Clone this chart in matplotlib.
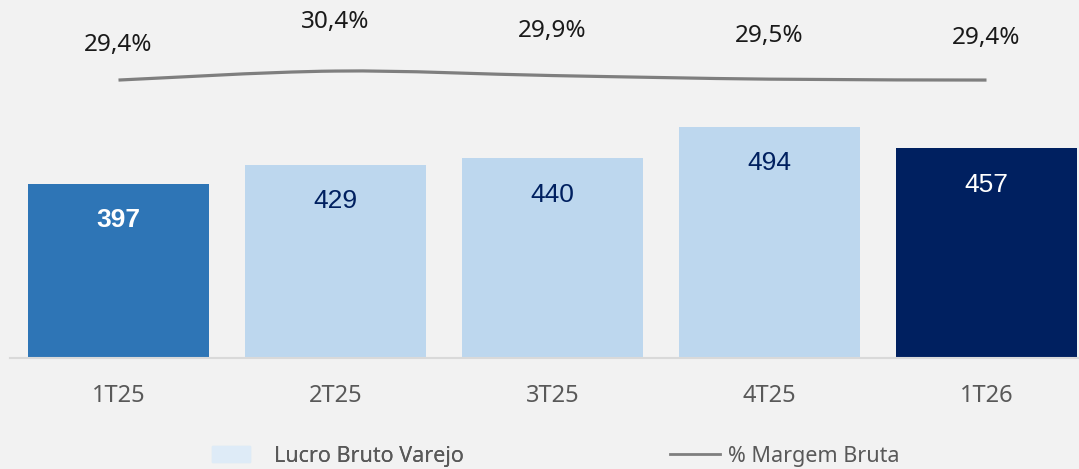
import matplotlib.pyplot as plt
from matplotlib.path import Path
from matplotlib.patches import PathPatch, Patch
from matplotlib.lines import Line2D
import numpy as np

quarters = ['1T25', '2T25', '3T25', '4T25', '1T26']
lucro_bruto = [397, 429, 440, 494, 457]
margem_bruta = [29.4, 30.4, 29.9, 29.5, 29.4]
margem_labels = ['29,4%', '30,4%', '29,9%', '29,5%', '29,4%']

bar_colors = ['#2E75B6', '#BDD7EE', '#BDD7EE', '#BDD7EE', '#002060']
label_colors = ['white', '#002060', '#002060', '#002060', 'white']
label_weights = ['bold', 'normal', 'normal', 'normal', 'normal']
label_offsets = [25, 35, 32, 31, 30]   # points above the line
bg = '#F2F2F2'

fig = plt.figure(figsize=(10.79, 4.69), dpi=100, facecolor=bg)
ax = fig.add_axes([10 / 1079, 111 / 469, 1085 / 1079, 358 / 469])
ax.set_facecolor('none')

x = np.arange(len(quarters))
bars = ax.bar(x, lucro_bruto, width=0.83, color=bar_colors)
ax.set_ylim(100, 710)
ax.set_xlim(-0.5, 4.5)

for b, v, c, w in zip(bars, lucro_bruto, label_colors, label_weights):
    ax.annotate(str(v), (b.get_x() + b.get_width() / 2, v),
                xytext=(0, -26), textcoords='offset points',
                ha='center', va='center', fontsize=19, color=c,
                fontweight=w, family='Liberation Sans')

for s in ['top', 'right', 'left']:
    ax.spines[s].set_visible(False)
ax.spines['bottom'].set_color('#D9D9D9')
ax.spines['bottom'].set_linewidth(1.5)
ax.set_yticks([])
ax.set_xticks(x)
ax.set_xticklabels(quarters, fontsize=17, color='#595959', family='Noto Sans')
ax.tick_params(axis='x', length=0, pad=19)

# margin line on its own scale, drawn as a smooth curve through the points
ax2 = ax.twinx()
ax2.set_ylim(-1.5, 38.3)
ax2.axis('off')
pts = np.column_stack([x, margem_bruta])
verts = [tuple(pts[0])]
codes = [Path.MOVETO]
for i in range(len(pts) - 1):
    p0 = pts[max(i - 1, 0)]
    p1 = pts[i]
    p2 = pts[i + 1]
    p3 = pts[min(i + 2, len(pts) - 1)]
    c1 = p1 + (p2 - p0) / 6
    c2 = p2 - (p3 - p1) / 6
    verts += [tuple(c1), tuple(c2), tuple(p2)]
    codes += [Path.CURVE4] * 3
ax2.add_patch(PathPatch(Path(verts, codes), fill=False,
                        edgecolor='#7F7F7F', linewidth=2.3))

for xi, v, t, off in zip(x, margem_bruta, margem_labels, label_offsets):
    ax2.annotate(t, (xi, v), xytext=(0, off), textcoords='offset points',
                 ha='center', va='center', fontsize=17.5, color='#1A1A1A',
                 family='Noto Sans')

leg_font = {'family': 'Noto Sans', 'size': 15.5}
leg1 = fig.legend(handles=[Patch(color='#DEEBF7')], labels=['Lucro Bruto Varejo'],
                  loc='center left', bbox_to_anchor=(212 / 1079, 13 / 469),
                  frameon=False, handlelength=1.75, handleheight=0.7,
                  handletextpad=1.15, borderpad=0, borderaxespad=0,
                  labelcolor='#595959', prop=leg_font)
leg2 = fig.legend(handles=[Line2D([], [], color='#7F7F7F', lw=2)], labels=['% Margem Bruta'],
                  loc='center left', bbox_to_anchor=(670 / 1079, 13 / 469),
                  frameon=False, handlelength=2.3, handletextpad=0.4, borderpad=0,
                  borderaxespad=0, labelcolor='#595959', prop=leg_font)
fig.add_artist(leg1)

fig.savefig('out.png', dpi=100, facecolor=bg)
